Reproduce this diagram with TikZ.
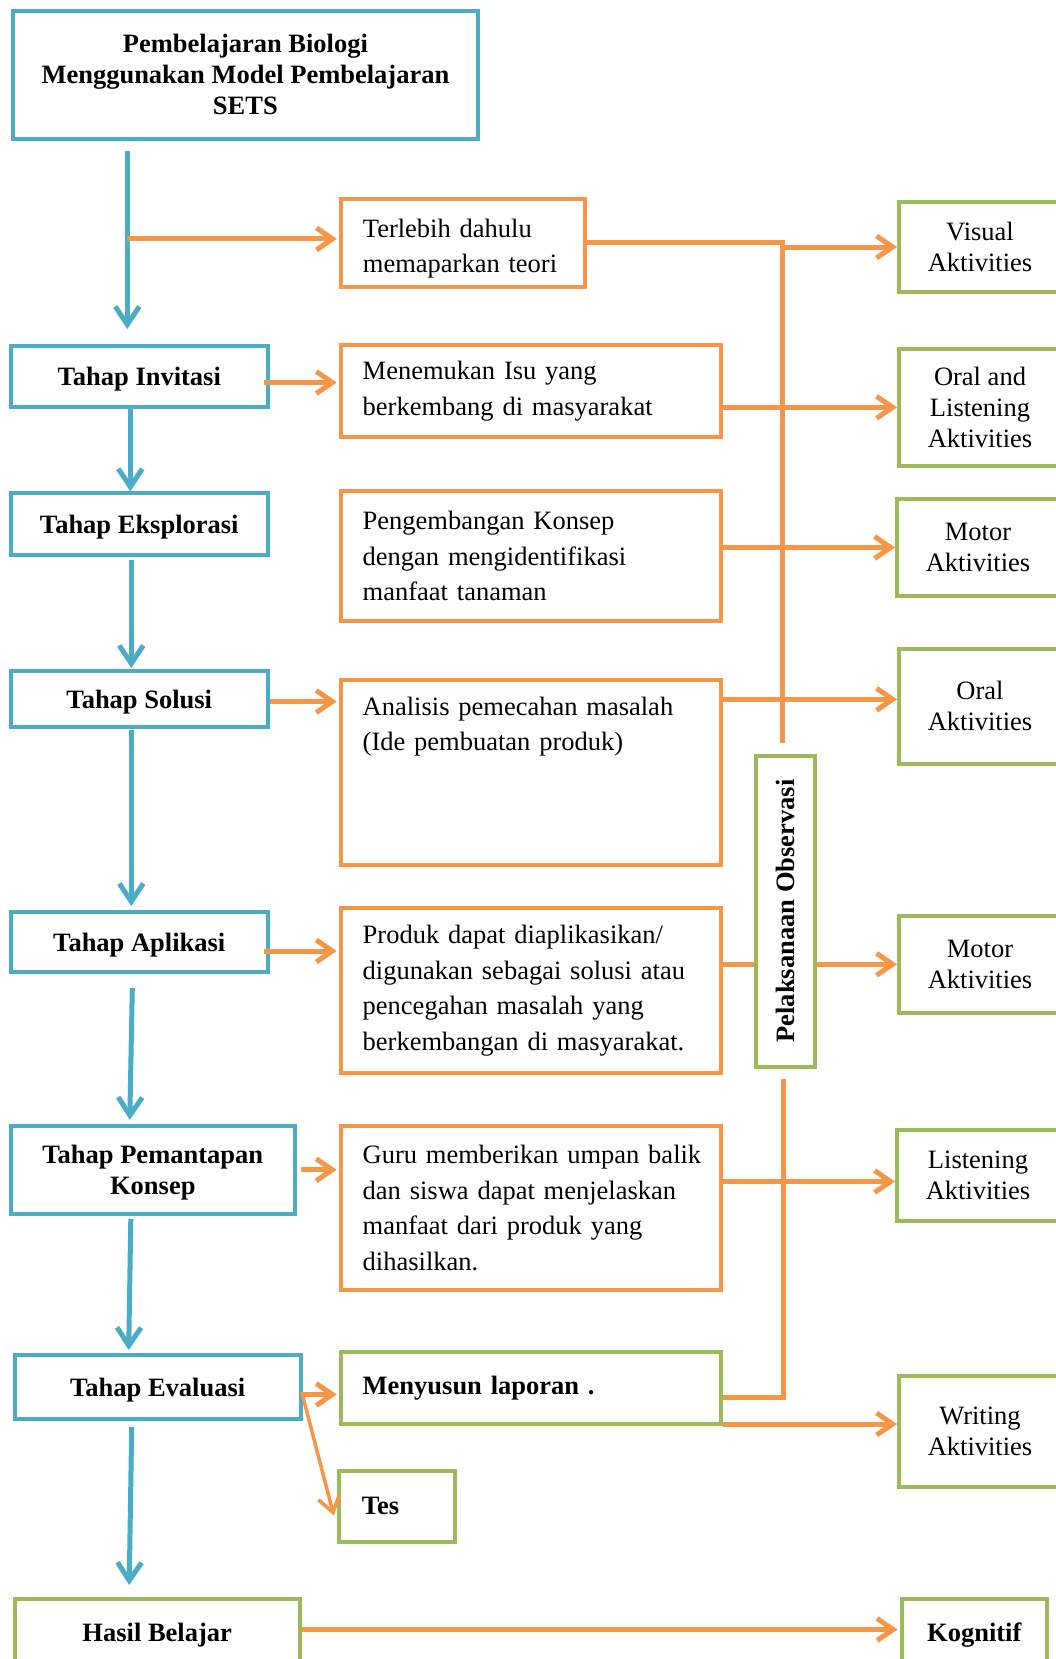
\documentclass[tikz,border=0pt]{standalone}
\usepackage{fontspec}
\setmainfont{Liberation Serif}
\usetikzlibrary{arrows.meta, calc}
\definecolor{setsblue}{HTML}{4BACC6}
\definecolor{setsorange}{HTML}{F79646}
\definecolor{setsgreen}{HTML}{9BBB59}

\begin{document}
\begin{tikzpicture}[x=1pt, y=-1pt,
    tahap/.style={draw=setsblue, line width=4pt, inner sep=0pt, align=center, text depth=0pt,
                  font=\fontsize{26.5}{31}\selectfont\bfseries},
    isi/.style={draw=setsorange, line width=4pt, inner xsep=22pt, align=left,
                font=\fontsize{26.5}{35.5}\selectfont},
    hasil/.style={draw=setsgreen, line width=4pt, inner sep=0pt, align=center,
                  font=\fontsize{26.5}{31}\selectfont},
    biru/.style={draw=setsblue, line width=5pt, -{Straight Barb[length=18pt,width=24pt]}},
    oranye/.style={draw=setsorange, line width=5pt, -{Straight Barb[length=16pt,width=22pt]}},
    garis/.style={draw=setsorange, line width=5pt}]
      \useasboundingbox (0,0) rectangle (1056,1659);
      \clip (0,0) rectangle (1056,1659);
      \fill[white] (0,0) rectangle (1056,1659);

      % Kolom kiri: tahap-tahap SETS
      \node (judul) [tahap, text depth=, minimum width=465pt, minimum height=128pt,
                     font=\fontsize{26.5}{30.7}\selectfont\bfseries] at (245.4,74.6)
            {Pembelajaran Biologi\\Menggunakan Model Pembelajaran\\SETS};
      \node (invitasi) [tahap, minimum width=257pt, minimum height=61pt] at (139.3,376.5) {Tahap Invitasi};
      \node (eksplorasi) [tahap, minimum width=257pt, minimum height=62pt] at (139.3,524.3) {Tahap Eksplorasi};
      \node (solusi) [tahap, minimum width=257pt, minimum height=56pt] at (139.3,699) {Tahap Solusi};
      \node (aplikasi) [tahap, minimum width=257pt, minimum height=60pt] at (139.3,942) {Tahap Aplikasi};
      \node (pemantapan) [tahap, minimum width=284pt, minimum height=88pt] at (152.8,1169.8) {Tahap Pemantapan\\Konsep};
      \node (evaluasi) [tahap, minimum width=286pt, minimum height=64pt] at (157.7,1387) {Tahap Evaluasi};
      \node (hasil) [tahap, draw=setsgreen, minimum width=285pt, minimum height=67pt] at (157.2,1632.5) {Hasil Belajar};

      % Kolom tengah: kegiatan
      \node (terlebih) [isi, text width=200pt, minimum height=88pt] at (462.9,242.9)
            {\rule{0pt}{30pt}Terlebih dahulu\\memaparkan teori};
      \node (menemukan) [isi, text width=336pt, minimum height=92pt] at (530.7,391)
            {Menemukan Isu yang\\berkembang di masyarakat};
      \node (pengembangan) [isi, text width=336pt, minimum height=130pt] at (530.7,556)
            {Pengembangan Konsep\\dengan mengidentifikasi\\manfaat tanaman};
      \node (analisis) [isi, text width=336pt, minimum height=184.5pt] at (530.7,772.3)
            {Analisis pemecahan masalah\\(Ide pembuatan produk)\\[51pt]\strut};
      \node (produk) [isi, text width=336pt, minimum height=165pt] at (530.7,990.5)
            {Produk dapat diaplikasikan/\\digunakan sebagai solusi atau\\pencegahan masalah yang\\berkembangan di masyarakat.};
      \node (guru) [isi, text width=336pt, minimum height=164pt] at (530.7,1208)
            {\mbox{Guru memberikan umpan balik}\\dan siswa dapat menjelaskan\\manfaat dari produk yang\\dihasilkan.};
      \node (menyusun) [isi, draw=setsgreen, text width=336pt, minimum height=72pt,
                        font=\fontsize{26.5}{35.5}\selectfont\bfseries] at (530.7,1388) {Menyusun laporan .};
      \node (tes) [isi, draw=setsgreen, inner xsep=23pt, text width=70pt, minimum height=71pt,
                   font=\fontsize{26.5}{35.5}\selectfont\bfseries] at (396.8,1506.4) {Tes};

      % Pelaksanaan observasi
      \node (observasi) [hasil, minimum width=59pt, minimum height=311pt,
                         font=\fontsize{26.5}{31}\selectfont\bfseries] at (785,911)
            {\rotatebox{90}{Pelaksanaan Observasi}};

      % Kolom kanan: aktivitas
      \node (visual) [hasil, minimum width=162pt, minimum height=90pt] at (980,247) {Visual\\Aktivities};
      \node (orallisten) [hasil, minimum width=162pt, minimum height=117pt] at (980,407.3) {Oral and\\Listening\\Aktivities};
      \node (motorsatu) [hasil, minimum width=162pt, minimum height=97pt] at (978,547.5) {Motor\\Aktivities};
      \node (oral) [hasil, minimum width=162pt, minimum height=115pt] at (980,706.3) {Oral\\Aktivities};
      \node (motordua) [hasil, minimum width=162pt, minimum height=97pt] at (980,964.3) {Motor\\Aktivities};
      \node (listening) [hasil, minimum width=162pt, minimum height=91pt] at (978,1175.5) {Listening\\Aktivities};
      \node (writing) [hasil, minimum width=162pt, minimum height=111pt] at (980,1431.3) {Writing\\Aktivities};
      \node (kognitif) [hasil, minimum width=145.5pt, minimum height=67pt, text depth=0pt,
                        font=\fontsize{26.5}{31}\selectfont\bfseries] at (974.3,1632.5) {Kognitif};

      % Alur tahap (biru)
      \draw[biru] ($(invitasi.north |- judul.south)+(-12,10)$) -- ($(invitasi.north)+(-12,-15)$);
      \draw[biru] ($(invitasi.south)+(-9,0)$) -- ($(eksplorasi.north)+(-9,0)$);
      \draw[biru] ($(eksplorasi.south)+(-8,3)$) -- ($(solusi.north)+(-8,-1)$);
      \draw[biru] ($(solusi.south)+(-8,1)$) -- ($(aplikasi.north)+(-8,-4)$);
      \draw[biru] ($(aplikasi.south)+(-7,14)$) -- ($(pemantapan.north)+(-23,-4)$);
      \draw[biru] ($(pemantapan.south)+(-22,3)$) -- ($(evaluasi.north)+(-29,-3)$);
      \draw[biru] ($(evaluasi.south)+(-26,6)$) -- ($(hasil.north)+(-28,-12)$);

      % Tahap ke kegiatan
      \draw[oranye] ($(invitasi.north |- terlebih.west)+(-12,-4)$) -- ($(terlebih.west)+(-2,-4)$);
      \draw[oranye] ($(invitasi.east)+(-6,6)$) -- ($(invitasi.east -| menemukan.west)+(-2,6)$);
      \draw[oranye] ($(solusi.east)+(0,2.5)$) -- ($(solusi.east -| analisis.west)+(-2,2.5)$);
      \draw[oranye] ($(aplikasi.east)+(-6,9)$) -- ($(aplikasi.east -| produk.west)+(-2,9)$);
      \draw[oranye] ($(pemantapan.east)+(4.5,0)$) -- ($(pemantapan.east -| guru.west)+(-2,0)$);
      \draw[oranye] ($(evaluasi.east)+(0,7.5)$) -- ($(evaluasi.east -| menyusun.west)+(-2,7.5)$);
      \draw[oranye, line width=3.5pt] ($(evaluasi.east)+(-1,5)$) -- ($(tes.west)+(-3,9)$);
      \draw[oranye] ($(hasil.east)+(0,-3)$) -- ($(hasil.east -| kognitif.west)+(-2,-3)$);

      % Kegiatan ke aktivitas
      \draw[garis] (terlebih.east) -- ($(terlebih.east -| observasi.north)+(-3,0)$)
                   -- ($(observasi.north)+(-3,-11)$);
      \draw[oranye] ($(visual.west -| observasi.north)+(-3,0)$) -- (visual.west);
      \draw[oranye] (menemukan.east |- orallisten.west) -- (orallisten.west);
      \draw[oranye] (pengembangan.east |- motorsatu.west) -- (motorsatu.west);
      \draw[oranye] ($(analisis.east |- oral.west)+(0,-7)$) -- ($(oral.west)+(0,-7)$);
      \draw[garis] (produk.east |- motordua.west) -- (observasi.west |- motordua.west);
      \draw[oranye] (observasi.east |- motordua.west) -- (motordua.west);
      \draw[garis] ($(observasi.south)+(-2,10)$) -- ($(observasi.south |- menyusun.east)+(-2,9)$)
                   -- ($(menyusun.east)+(0,9)$);
      \draw[oranye] ($(guru.east |- listening.west)+(0,6)$) -- ($(listening.west)+(0,6)$);
      \draw[oranye] ($(menyusun.south east)+(0,-2)$) -- ($(menyusun.south east -| writing.west)+(0,-2)$);
\end{tikzpicture}
\end{document}
